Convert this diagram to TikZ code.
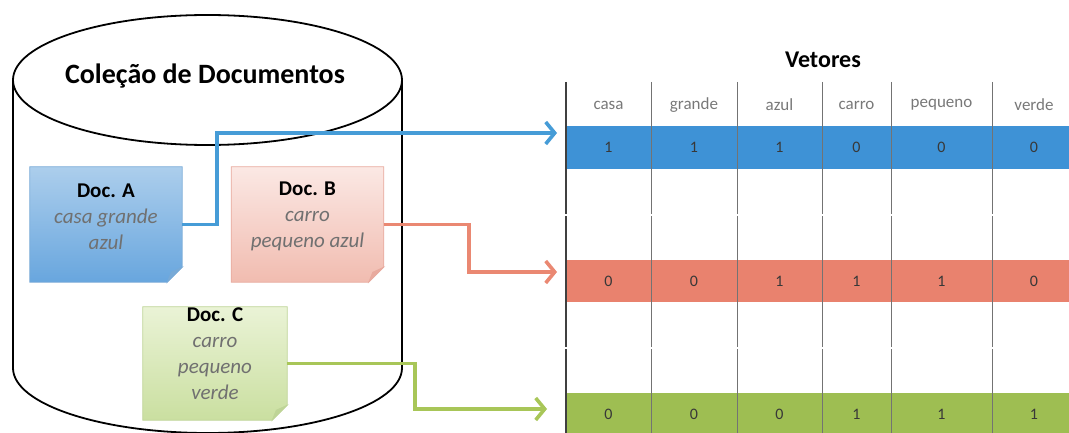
\documentclass[tikz,border=0pt]{standalone}
\usepackage{fontspec}
\setmainfont{Carlito}
\usetikzlibrary{arrows.meta,backgrounds}

\definecolor{rowblue}{RGB}{62,146,214}
\definecolor{rowpink}{RGB}{233,130,110}
\definecolor{rowgreen}{RGB}{158,190,82}
\definecolor{linkblue}{RGB}{70,156,215}
\definecolor{linkpink}{RGB}{234,136,114}
\definecolor{linkgreen}{RGB}{168,198,88}
\definecolor{docAtop}{RGB}{172,206,236}
\definecolor{docAbot}{RGB}{104,166,222}
\definecolor{docAedge}{RGB}{120,170,215}
\definecolor{docBtop}{RGB}{251,232,228}
\definecolor{docBbot}{RGB}{241,188,176}
\definecolor{docBedge}{RGB}{232,170,158}
\definecolor{docCtop}{RGB}{234,243,214}
\definecolor{docCbot}{RGB}{202,223,160}
\definecolor{docCedge}{RGB}{190,212,150}
\definecolor{softtext}{RGB}{112,112,112}
\definecolor{headtext}{RGB}{120,120,120}

\tikzset{
  cyl/.style={line width=1.8pt, draw=black},
  docbox/.style={rectangle, minimum width=152pt, minimum height=115pt, inner sep=0pt},
  doctext/.style={align=center, inner sep=0pt,
    font=\fontsize{21}{26}\selectfont},
  link/.style={line width=3.6pt, -{Straight Barb[length=9pt,width=22pt]}},
  rowbar/.style={rectangle, minimum width=520pt, inner sep=0pt, draw=none},
  head/.style={font=\fontsize{17}{20}\selectfont, text=headtext},
  val/.style={font=\fontsize{16}{18}\selectfont, text=black!78},
  grid/.style={line width=1pt, draw=black!55},
  gridfirst/.style={line width=1.6pt, draw=black!75}
}

% sticky-note sheet with a folded lower right corner, drawn behind its node
\newcommand\notesheet[4]{%
  \path[top color=#2, bottom color=#3, draw=#4, line width=0.8pt]
    (#1.north west) -- (#1.north east) -- ([yshift=15pt]#1.south east)
    -- ([xshift=-15pt]#1.south east) -- (#1.south west) -- cycle;
  \path[fill=#4, draw=#4, line width=0.6pt]
    ([yshift=15pt]#1.south east) -- ([xshift=-15pt]#1.south east)
    -- ([xshift=-11pt,yshift=10pt]#1.south east) -- cycle;
}

\begin{document}
\begin{tikzpicture}[x=1pt,y=-1pt]
\useasboundingbox (0,0) rectangle (1069,433);
\clip (0,0) rectangle (1069,433);

% ---------------- document collection (cylinder) ----------------
\draw[cyl] (207.5,80) ellipse [x radius=194.5pt, y radius=65pt];
\draw[cyl] (13,80) -- (13,368)
  arc[start angle=180, end angle=360, x radius=194.5pt, y radius=65pt]
  -- (402,80);
\node[font=\bfseries\fontsize{28}{32}\selectfont] (colTitle) at (205,76)
  {Coleção de Documentos};

% documents
\node[docbox] (docA) at (106,224.5) {};
\node[docbox] (docB) at (307.5,224.5) {};
\node[docbox, minimum width=144pt, minimum height=113pt] (docC) at (215,363.5) {};

\begin{scope}[on background layer]
  \notesheet{docA}{docAtop}{docAbot}{docAedge}
  \notesheet{docB}{docBtop}{docBbot}{docBedge}
  \notesheet{docC}{docCtop}{docCbot}{docCedge}
\end{scope}

\node[doctext] (docAtext) at ([yshift=8pt]docA.center)
  {{\bfseries Doc. A}\\{\itshape\color{softtext}casa grande}\\{\itshape\color{softtext}azul}};
\node[doctext] (docBtext) at ([yshift=8pt]docB.center)
  {{\bfseries Doc. B}\\{\itshape\color{softtext}carro}\\{\itshape\color{softtext}pequeno azul}};
\node[doctext] (docCtext) at ([yshift=9.5pt]docC.center)
  {{\bfseries Doc. C}\\{\itshape\color{softtext}carro}\\{\itshape\color{softtext}pequeno}\\{\itshape\color{softtext}verde}};

% ---------------- vector table ----------------
\node[font=\bfseries\fontsize{24}{28}\selectfont] (vecTitle) at (823,60) {Vetores};

\node[rowbar, fill=rowblue,  minimum height=43pt] (rowA) at (826,147.5) {};
\node[rowbar, fill=rowpink,  minimum height=42pt] (rowB) at (826,281) {};
\node[rowbar, fill=rowgreen, minimum height=43pt] (rowC) at (826,414.5) {};

% column rules
\draw[gridfirst] (566,82) -- (566,433);
\foreach \cx in {651,737,822,891,992}
  \draw[grid] (\cx,82) -- (\cx,433);
% faint row separators of the empty rows
\foreach \ry in {215,348}
  \draw[white, line width=1.2pt] (560,\ry) -- (1069,\ry);

% header
\node[head] (hCasa)    at (608.5,105) {casa};
\node[head] (hGrande)  at (694,105)   {grande};
\node[head] (hAzul)    at (779.5,105) {azul};
\node[head] (hCarro)   at (856.5,105) {carro};
\node[head] (hPequeno) at (941.5,105) {pequeno};
\node[head] (hVerde)   at (1034,105)  {verde};

% values
\foreach \v [count=\i] in {1,1,1,0,0,0}
  \node[val] (vA\i) at ({\ifcase\i\or608.5\or694\or779.5\or856.5\or941.5\or1034\fi},147.5) {\v};
\foreach \v [count=\i] in {0,0,1,1,1,0}
  \node[val] (vB\i) at ({\ifcase\i\or608.5\or694\or779.5\or856.5\or941.5\or1034\fi},281) {\v};
\foreach \v [count=\i] in {0,0,0,1,1,1}
  \node[val] (vC\i) at ({\ifcase\i\or608.5\or694\or779.5\or856.5\or941.5\or1034\fi},414.5) {\v};

% ---------------- links from documents to vectors ----------------
\coordinate (bendA) at (217,133);
\coordinate (tipA)  at (557,133);
\coordinate (bendB) at (469,272);
\coordinate (tipB)  at (557,272);
\coordinate (bendC) at (415,409);
\coordinate (tipC)  at (547,409);

\draw[link, draw=linkblue]  (docA.east) -| (bendA) -- (tipA);
\draw[link, draw=linkpink]  (docB.east) -| (bendB) -- (tipB);
\draw[link, draw=linkgreen] (docC.east) -| (bendC) -- (tipC);
\end{tikzpicture}
\end{document}
